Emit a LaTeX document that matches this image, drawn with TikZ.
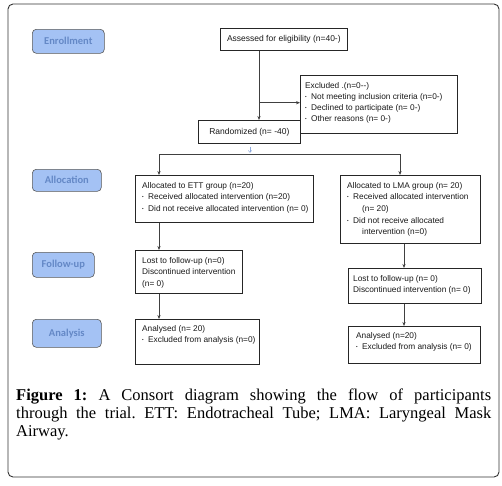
\documentclass[tikz,border=0pt]{standalone}
\usepackage{fontspec}
\setmainfont{Liberation Serif}
\newfontfamily\boxfam{Liberation Sans}
\newfontfamily\stagefam{Carlito}
\usetikzlibrary{arrows.meta,calc}
\definecolor{stagefill}{HTML}{A4C2F4}
\definecolor{stagetext}{HTML}{6488C6}
\definecolor{framecol}{HTML}{333333}
\definecolor{smallarr}{HTML}{8FAADC}
\tikzset{
  frame/.style={draw=framecol,line width=0.9pt,rounded corners=5pt},
  stage/.style={draw=black!65,line width=0.6pt,fill=stagefill,rounded corners=4pt,
    anchor=north west,inner sep=0pt,font=\stagefam\bfseries\fontsize{10.5}{12}\selectfont,text=stagetext},
  box/.style={draw=black!85,line width=0.7pt,anchor=north west,inner sep=0pt},
  txt/.style={anchor=north west,inner sep=0pt,align=left,text=black!90,
    font=\boxfam\fontsize{8.3}{11.6}\selectfont},
  ctxt/.style={inner sep=0pt,text=black!90,font=\boxfam\fontsize{8.5}{11.6}\selectfont},
  arr/.style={draw=black!75,line width=0.6pt,-{Stealth[length=4pt,width=3.2pt]}},
  ln/.style={draw=black!75,line width=0.6pt},
}
\newcommand\bul{\makebox[6pt][l]{\fontsize{4.5}{5}\selectfont\raisebox{0.9pt}{\textbullet}}}
\begin{document}
\begin{tikzpicture}[x=1pt,y=-1pt]
\useasboundingbox (0,0) rectangle (502,485);
\draw[frame] (8,4) rectangle (499,477);
% stage labels
\node[stage,minimum width=72pt,minimum height=24pt] (senr) at (32,29) {Enrollment};
\node[stage,minimum width=69pt,minimum height=22pt] (salloc) at (32,169) {Allocation};
\node[stage,minimum width=62pt,minimum height=25pt] (sfol) at (32,252) {Follow-up};
\node[stage,minimum width=69pt,minimum height=28pt] (sana) at (32,319) {Analysis};
% boxes
\node[box,minimum width=127pt,minimum height=22pt] (assess) at (220,28) {};
\node[ctxt] at (assess.center) {Assessed for eligibility (n=40-)};
\node[box,minimum width=157pt,minimum height=58pt] (excl) at (300,75) {};
\node[txt] at (305,82) {Excluded .(n=0{-}{-})\\[-0.6pt]
\bul Not meeting inclusion criteria (n=0{-})\\[-0.6pt]
\bul Declined to participate (n= 0-)\\[-0.6pt]
\bul Other reasons (n= 0-)};
\node[box,fill=white,minimum width=102pt,minimum height=23pt] (rand) at (198,120) {};
\node[ctxt] at (rand.center) {Randomized (n= -40)};
\node[box,minimum width=178pt,minimum height=47pt] (ett) at (135,175) {};
\node[txt] at (142,182) {Allocated to ETT group (n=20)\\
\bul Received allocated intervention (n=20)\\
\bul Did not receive allocated intervention (n= 0)};
\node[box,minimum width=140pt,minimum height=68pt] (lma) at (340,175) {};
\node[txt] at (347,182) {Allocated to LMA group (n= 20)\\
\bul Received allocated intervention\\
\hspace{15pt}(n= 20)\\
\bul Did not receive allocated\\
\hspace{15pt}intervention (n=0)};
\node[box,minimum width=107pt,minimum height=43pt] (ettf) at (135,250) {};
\node[txt] at (142,257) {Lost to follow-up (n=0)\\
Discontinued intervention\\
(n= 0)};
\node[box,minimum width=133pt,minimum height=35pt] (lmaf) at (348,268) {};
\node[txt] at (353,275) {Lost to follow-up (n= 0)\\
Discontinued intervention (n= 0)};
\node[box,minimum width=124pt,minimum height=45pt] (etta) at (135,319) {};
\node[txt] at (142,325) {Analysed (n= 20)\\
\bul Excluded from analysis (n=0)};
\node[box,minimum width=132pt,minimum height=37pt] (lmaa) at (348,326) {};
\node[txt] at (356,332) {Analysed (n=20)\\
\bul Excluded from analysis (n= 0)};
% connectors
\coordinate (a1) at ($(assess.south west)+(39,0)$);
\coordinate (jx) at ($(a1)+(0,52)$);
\draw[arr] (a1) -- (a1 |- rand.north);
\draw[arr] (jx) -- (jx -| excl.west);
\draw[draw=smallarr,line width=0.5pt,-{To[length=2.5pt,width=4pt]}] ($(rand.south west)+(52,3)$) -- ++(0,6);
\coordinate (sl) at ($(ett.north west)+(24,-21)$);
\coordinate (sr) at ($(lma.north west)+(60,-21)$);
\draw[ln] (sl) -- (sr);
\draw[arr] (sl) -- (sl |- ett.north);
\draw[arr] (sr) -- (sr |- lma.north);
\coordinate (el) at ($(ett.south west)+(24,0)$);
\draw[arr] (el) -- (el |- ettf.north);
\coordinate (fl) at ($(ettf.south west)+(24,0)$);
\draw[arr] (fl) -- (fl |- etta.north);
\coordinate (lr) at ($(lma.south west)+(64,0)$);
\draw[arr] (lr) -- (lr |- lmaf.north);
\coordinate (mr) at ($(lmaf.south west)+(56,0)$);
\draw[arr] (mr) -- (mr |- lmaa.north);
% caption
\node[anchor=north west,inner sep=0pt,text width=475pt,align=justify,
  font=\fontsize{16.5}{18}\selectfont\frenchspacing] (cap) at (16,389)
  {\textbf{Figure 1:} A Consort diagram showing the flow of participants\linebreak
   through the trial. ETT: Endotracheal Tube; LMA: Laryngeal Mask\linebreak Airway.};
\end{tikzpicture}
\end{document}
